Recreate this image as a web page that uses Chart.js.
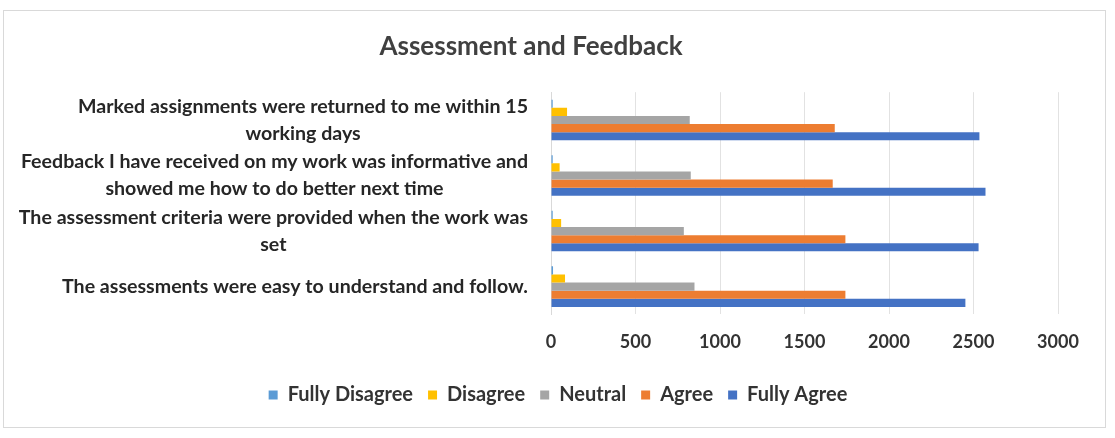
<!DOCTYPE html>
<html>
<head>
<meta charset="utf-8">
<script src="https://cdn.jsdelivr.net/npm/chart.js@4/dist/chart.umd.min.js"></script>
<style>
  html, body { margin: 0; padding: 0; background: #fff; }
  #box {
    position: absolute; left: 3px; top: 10px;
    width: 1101px; height: 416px;
    border: 1px solid #d9d9d9; background: #fff;
  }
  canvas { display: block; }
</style>
</head>
<body>
<div id="box"><canvas id="chart" width="1101" height="416"></canvas></div>
<script>
const categories = [
  ['Marked assignments were returned to me within 15', 'working days'],
  ['Feedback I have received on my work was informative and', 'showed me how to do better next time'],
  ['The assessment criteria were provided when the work was', 'set'],
  ['The assessments were easy to understand and follow.']
];
const fullyDisagree = [10, 10, 10, 12];
const disagree = [95, 51, 60, 83];
const neutral = [821, 827, 786, 849];
const agree = [1679, 1667, 1742, 1742];
const fullyAgree = [2535, 2571, 2530, 2452];
const xTicks = [0, 500, 1000, 1500, 2000, 2500, 3000];

const labelFont = '700 19.6px Lato';

// draws the wrapped category labels, each line centered within its own block
const categoryLabels = {
  id: 'categoryLabels',
  afterLayout(chart) {
    // nudge the legend row a little to the right, as in the original
    chart.legend.left += 27;
    chart.legend.right += 27;
  },
  afterDraw(chart) {
    const ctx = chart.ctx;
    const y = chart.scales.y;
    const right = chart.chartArea.left - 23;
    const lineH = 27;
    ctx.save();
    ctx.font = labelFont;
    ctx.fillStyle = '#262626';
    ctx.textAlign = 'center';
    ctx.textBaseline = 'middle';
    categories.forEach((lines, i) => {
      const cy = y.getPixelForTick(i);
      const w = Math.max(...lines.map(l => ctx.measureText(l).width));
      const cx = right - w / 2;
      const top = cy - (lines.length - 1) * lineH / 2;
      lines.forEach((l, j) => ctx.fillText(l, cx, top + j * lineH));
    });
    ctx.restore();
  }
};

new Chart(document.getElementById('chart'), {
  type: 'bar',
  data: {
    labels: categories,
    datasets: [
      { label: 'Fully Disagree', data: fullyDisagree, backgroundColor: '#5B9BD5' },
      { label: 'Disagree', data: disagree, backgroundColor: '#FFC000' },
      { label: 'Neutral', data: neutral, backgroundColor: '#A5A5A5' },
      { label: 'Agree', data: agree, backgroundColor: '#ED7D31' },
      { label: 'Fully Agree', data: fullyAgree, backgroundColor: '#4472C4' }
    ]
  },
  options: {
    indexAxis: 'y',
    responsive: false,
    animation: false,
    layout: { padding: { left: 0, right: 47, top: 8, bottom: 12 } },
    datasets: { bar: { categoryPercentage: 0.73, barPercentage: 1.0 } },
    scales: {
      x: {
        min: 0, max: 3000,
        afterBuildTicks: (scale) => { scale.ticks = xTicks.map(v => ({ value: v })); },
        grid: { color: '#e2e2e2', drawTicks: false },
        border: { display: false },
        ticks: {
          font: { family: 'Lato', size: 18, weight: '700' }, color: '#333', padding: 17,
          callback: (v) => String(v)
        }
      },
      y: {
        grid: { display: false },
        border: { display: true, color: '#d9d9d9' },
        ticks: { display: false },
        afterFit: (scale) => { scale.width = 547; }
      }
    },
    plugins: {
      title: {
        display: true,
        text: 'Assessment and Feedback',
        color: '#404040',
        font: { family: 'Lato', size: 26, weight: '700' },
        padding: { top: 12, bottom: 30 }
      },
      legend: {
        position: 'bottom',
        labels: {
          boxWidth: 9, boxHeight: 9,
          padding: 15,
          color: '#333',
          font: { family: 'Lato', size: 20, weight: '700' }
        }
      },
      tooltip: { enabled: false }
    }
  },
  plugins: [categoryLabels]
});
</script>
</body>
</html>
